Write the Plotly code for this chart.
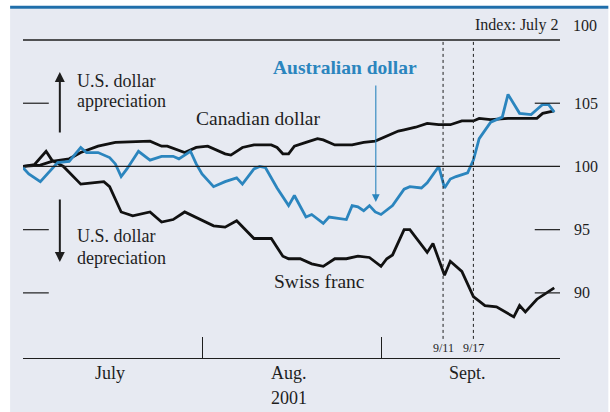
import plotly.graph_objects as go

# ---------------- data (index, July 2 = 100) ----------------
swiss_dates = ["2001-07-01", "2001-07-03", "2001-07-05", "2001-07-06", "2001-07-08", "2001-07-10",
               "2001-07-11", "2001-07-13", "2001-07-15", "2001-07-16", "2001-07-17", "2001-07-18",
               "2001-07-20", "2001-07-23", "2001-07-25", "2001-07-27", "2001-07-29", "2001-08-01",
               "2001-08-03", "2001-08-05", "2001-08-07", "2001-08-10", "2001-08-13", "2001-08-15",
               "2001-08-16", "2001-08-18", "2001-08-20", "2001-08-22", "2001-08-24", "2001-08-26",
               "2001-08-28", "2001-08-30", "2001-09-01", "2001-09-02", "2001-09-03", "2001-09-05",
               "2001-09-06", "2001-09-09", "2001-09-10", "2001-09-12", "2001-09-13", "2001-09-15",
               "2001-09-17", "2001-09-19", "2001-09-21", "2001-09-24", "2001-09-25", "2001-09-26",
               "2001-09-28", "2001-10-01"]
swiss_franc = [100.0, 100.15, 101.2, 100.5, 100.0, 99.1,
               98.6, 98.7, 98.8, 98.4, 97.4, 96.4,
               96.1, 96.4, 95.6, 95.8, 96.4, 95.7,
               95.3, 95.2, 95.7, 94.3, 94.3, 92.9,
               92.7, 92.7, 92.3, 92.1, 92.7, 92.7,
               92.9, 92.8, 92.1, 92.7, 93.0, 95.0,
               95.0, 93.2, 93.9, 91.4, 92.5, 91.7,
               89.7, 89.0, 88.9, 88.1, 89.0, 88.5,
               89.5, 90.4]

aud_dates = ["2001-07-01", "2001-07-02", "2001-07-04", "2001-07-05", "2001-07-07", "2001-07-09",
             "2001-07-11", "2001-07-12", "2001-07-14", "2001-07-16", "2001-07-17", "2001-07-18",
             "2001-07-19", "2001-07-21", "2001-07-23", "2001-07-25", "2001-07-27", "2001-07-28",
             "2001-07-30", "2001-07-31", "2001-08-01", "2001-08-03", "2001-08-05", "2001-08-07",
             "2001-08-08", "2001-08-10", "2001-08-11", "2001-08-12", "2001-08-14", "2001-08-16",
             "2001-08-17", "2001-08-19", "2001-08-20", "2001-08-22", "2001-08-23", "2001-08-26",
             "2001-08-27", "2001-08-28", "2001-08-29", "2001-08-30", "2001-08-31", "2001-09-01",
             "2001-09-03", "2001-09-05", "2001-09-06", "2001-09-08", "2001-09-09", "2001-09-11",
             "2001-09-12", "2001-09-13", "2001-09-14", "2001-09-16", "2001-09-17", "2001-09-18",
             "2001-09-19", "2001-09-20", "2001-09-22", "2001-09-23", "2001-09-25", "2001-09-27",
             "2001-09-28", "2001-09-29", "2001-09-30", "2001-10-01"]
australian_dollar = [99.9, 99.4, 98.8, 99.3, 100.3, 100.4,
                     101.5, 101.1, 101.1, 100.7, 100.2, 99.2,
                     99.8, 101.2, 100.5, 100.8, 100.8, 100.6,
                     101.2, 100.2, 99.4, 98.4, 98.8, 99.1,
                     98.6, 99.8, 100.0, 99.9, 98.3, 96.9,
                     97.7, 96.0, 96.2, 95.5, 96.0, 95.8,
                     96.9, 96.8, 96.5, 96.9, 96.4, 96.2,
                     96.9, 98.2, 98.4, 98.3, 98.7, 100.0,
                     98.3, 99.0, 99.2, 99.5, 100.5, 102.2,
                     102.9, 103.5, 103.9, 105.7, 104.2, 104.1,
                     104.5, 104.9, 104.9, 104.3]

cad_dates = ["2001-07-01", "2001-07-04", "2001-07-06", "2001-07-09", "2001-07-11", "2001-07-14",
             "2001-07-17", "2001-07-21", "2001-07-23", "2001-07-25", "2001-07-26", "2001-07-29",
             "2001-07-31", "2001-08-02", "2001-08-03", "2001-08-05", "2001-08-06", "2001-08-08",
             "2001-08-10", "2001-08-13", "2001-08-14", "2001-08-15", "2001-08-16", "2001-08-17",
             "2001-08-19", "2001-08-21", "2001-08-22", "2001-08-23", "2001-08-24", "2001-08-27",
             "2001-08-29", "2001-08-31", "2001-09-02", "2001-09-04", "2001-09-05", "2001-09-07",
             "2001-09-09", "2001-09-11", "2001-09-13", "2001-09-15", "2001-09-17", "2001-09-18",
             "2001-09-20", "2001-09-23", "2001-09-28", "2001-09-29", "2001-10-01"]
canadian_dollar = [100.0, 100.1, 100.4, 100.6, 101.1, 101.6,
                   101.9, 102.0, 102.0, 101.6, 101.6, 101.1,
                   101.5, 101.6, 101.4, 101.0, 100.9, 101.5,
                   101.7, 101.7, 101.5, 101.0, 101.0, 101.6,
                   101.9, 102.2, 102.1, 101.9, 101.7, 101.7,
                   101.9, 102.0, 102.4, 102.8, 102.9, 103.1,
                   103.4, 103.3, 103.3, 103.6, 103.6, 103.8,
                   103.7, 103.8, 103.8, 104.2, 104.4]

month_ticks = ["2001-07-01", "2001-08-01", "2001-09-01", "2001-10-02"]
month_label_dates = ["2001-07-16", "2001-08-16", "2001-09-16"]
month_labels = ["July", "Aug.", "Sept."]
year_label = "2001"
event_dates = ["2001-09-11 18:00", "2001-09-17"]
event_labels = ["9/11", "9/17"]
y_ticks = [90, 95, 100, 105]
short_tick_levels = [90, 95, 105]

# ---------------- styling ----------------
SERIF = "Liberation Serif, Times New Roman, serif"
INK = "#1e1e1e"
BLUE = "#2b85be"
BAND = "#1f6eaa"
BG = "#e7eaf2"

fig = go.Figure()
fig.add_trace(go.Scatter(x=cad_dates, y=canadian_dollar, mode="lines",
                         line=dict(color="#111111", width=2.8), name="Canadian dollar"))
fig.add_trace(go.Scatter(x=swiss_dates, y=swiss_franc, mode="lines",
                         line=dict(color="#111111", width=2.8), name="Swiss franc"))
fig.add_trace(go.Scatter(x=aud_dates, y=australian_dollar, mode="lines",
                         line=dict(color=BLUE, width=2.8), name="Australian dollar"))

shapes = []
shapes.append(dict(type="rect", xref="paper", yref="paper", x0=-0.024, x1=1.09, y0=-0.175, y1=1.098,
                   fillcolor=BG, line=dict(width=0), layer="below"))
shapes.append(dict(type="line", xref="paper", yref="paper", x0=-0.024, x1=1.09, y0=1.103, y1=1.103,
                   line=dict(color=BAND, width=3)))
shapes.append(dict(type="line", xref="paper", yref="paper", x0=0, x1=1, y0=1, y1=1,
                   line=dict(color=INK, width=1.3)))
shapes.append(dict(type="line", xref="paper", yref="y", x0=0, x1=1, y0=100, y1=100,
                   line=dict(color=INK, width=1.2)))
for lv in short_tick_levels:
    shapes.append(dict(type="line", xref="paper", yref="y", x0=0, x1=0.048, y0=lv, y1=lv,
                       line=dict(color=INK, width=1.2)))
    shapes.append(dict(type="line", xref="paper", yref="y", x0=0.953, x1=1, y0=lv, y1=lv,
                       line=dict(color=INK, width=1.2)))
for d in event_dates:
    shapes.append(dict(type="line", xref="x", yref="paper", x0=d, x1=d, y0=0.06, y1=1,
                       line=dict(color=INK, width=1, dash="3px,3px")))

annotations = []
def txt(text, x, y, xanchor="left", size=16, color=INK, bold=False, xref="paper", yref="paper"):
    if bold:
        text = "<b>" + text + "</b>"
    annotations.append(dict(text=text, x=x, y=y, xref=xref, yref=yref, xanchor=xanchor,
                            yanchor="middle", showarrow=False,
                            font=dict(family=SERIF, size=size, color=color)))

txt("Index: July 2", 0.8386, 1.047, size=16)
txt("100", 1.0464, 1.047, xanchor="center", size=16)
txt("U.S. dollar", 0.0965, 0.870, size=18)
txt("appreciation", 0.0965, 0.809, size=18)
txt("U.S. dollar", 0.0965, 0.3825, size=18)
txt("depreciation", 0.0965, 0.3156, size=18)
txt("Canadian dollar", 0.319, 0.7547, size=19.5)
txt("Australian dollar", 0.462, 0.912, size=19.5, color=BLUE, bold=True)
txt("Swiss franc", 0.4638, 0.239, size=19.5)
for d, lab in zip(month_label_dates, month_labels):
    txt(lab, d, -0.047, xanchor="center", xref="x", size=18)
txt(year_label, month_label_dates[1], -0.126, xanchor="center", xref="x", size=18)
for d, lab in zip(event_dates, event_labels):
    txt(lab, d, 0.031, xanchor="center", size=12, xref="x")

annotations.append(dict(x=0.0686, y=0.899, xref="paper", yref="paper", ax=0, ay=62,
                        showarrow=True, arrowhead=2, arrowsize=1, arrowwidth=2,
                        arrowcolor=INK, text=""))
annotations.append(dict(x=0.0686, y=0.302, xref="paper", yref="paper", ax=0, ay=-64,
                        showarrow=True, arrowhead=2, arrowsize=1, arrowwidth=2,
                        arrowcolor=INK, text=""))
annotations.append(dict(x=0.657, y=0.4906, xref="paper", yref="paper", ax=0, ay=-118,
                        showarrow=True, arrowhead=2, arrowsize=1.4, arrowwidth=1.1,
                        arrowcolor=BLUE, text=""))

fig.update_layout(
    width=610, height=412,
    margin=dict(l=23, r=48, t=40, b=54),
    paper_bgcolor="white", plot_bgcolor="rgba(0,0,0,0)",
    showlegend=False,
    shapes=shapes, annotations=annotations,
    xaxis=dict(type="date", range=["2001-07-01", "2001-10-02"], tickvals=month_ticks,
               showticklabels=False, ticks="inside", ticklen=21, tickwidth=1.3, tickcolor=INK,
               showline=True, linecolor=INK, linewidth=1.3, showgrid=False, zeroline=False),
    yaxis=dict(range=[84.85, 110], tickvals=y_ticks, side="right", ticks="",
               ticklabelstandoff=13, showgrid=False, zeroline=False, showline=False,
               tickfont=dict(family=SERIF, size=16, color=INK)),
)

fig.write_html("out.html", config={"displayModeBar": False},
               post_script="document.body.style.margin='0';document.body.style.overflow='hidden';")
